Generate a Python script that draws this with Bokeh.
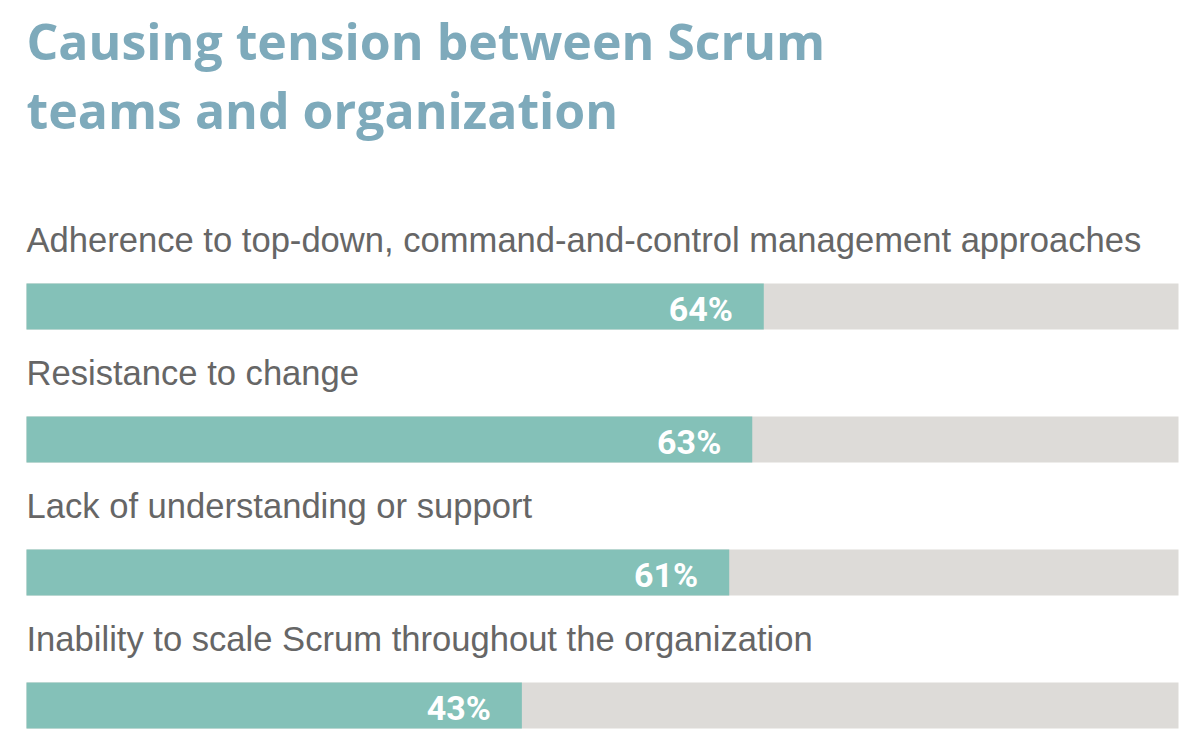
from bokeh.plotting import figure
from bokeh.models import Range1d, Label, ColumnDataSource
from bokeh.core.properties import value
from bokeh.embed import file_html
from bokeh.resources import INLINE

title_lines = ["Causing tension between Scrum", "teams and organization"]
categories = [
    "Adherence to top-down, command-and-control management approaches",
    "Resistance to change",
    "Lack of understanding or support",
    "Inability to scale Scrum throughout the organization",
]
values = [64, 63, 61, 43]
total = 100

W, H = 1184, 736
left_px, right_px = 26, 1178
scale = (right_px - left_px) / total
bar0, step, bar_h = 306, 133, 46

p = figure(width=W, height=H, output_backend="svg", toolbar_location=None,
           x_range=Range1d(-left_px / scale, (W - left_px) / scale),
           y_range=Range1d(H, 0), min_border=0)
p.axis.visible = False
p.grid.visible = False
p.outline_line_color = None
p.background_fill_color = "white"
p.border_fill_color = "white"

ys = [bar0 + i * step for i in range(len(values))]
src = ColumnDataSource(dict(
    y=ys, v=values, full=[total] * len(values),
    lab=[f"{v}%" for v in values],
    lx=[v - 31 / scale for v in values],
    py=[y + 2 for y in ys],
    ty=[y - 67 for y in ys],
    cat=categories,
))

p.hbar(y="y", left=0, right="full", height=bar_h, source=src,
       fill_color="#dddbd8", line_color=None)
p.hbar(y="y", left=0, right="v", height=bar_h, source=src,
       fill_color="#84c1b8", line_color=None)
p.text(x="lx", y="py", text="lab", source=src, text_align="right",
       text_baseline="middle", text_color="white",
       text_font=value("Roboto"), text_font_style="bold",
       text_font_size="34px")
p.text(x=0, y="ty", text="cat", source=src, text_align="left",
       text_baseline="middle", text_color="#666666",
       text_font=value("Liberation Sans"), text_font_size="34.6px")

for i, t in enumerate(title_lines):
    p.add_layout(Label(x=0, y=40 + i * 69, text=t, text_align="left",
                       text_baseline="middle", text_color="#7eaabb",
                       text_font="Open Sans", text_font_style="bold",
                       text_font_size="50px"))

open("out.html", "w").write(file_html(p, INLINE))
